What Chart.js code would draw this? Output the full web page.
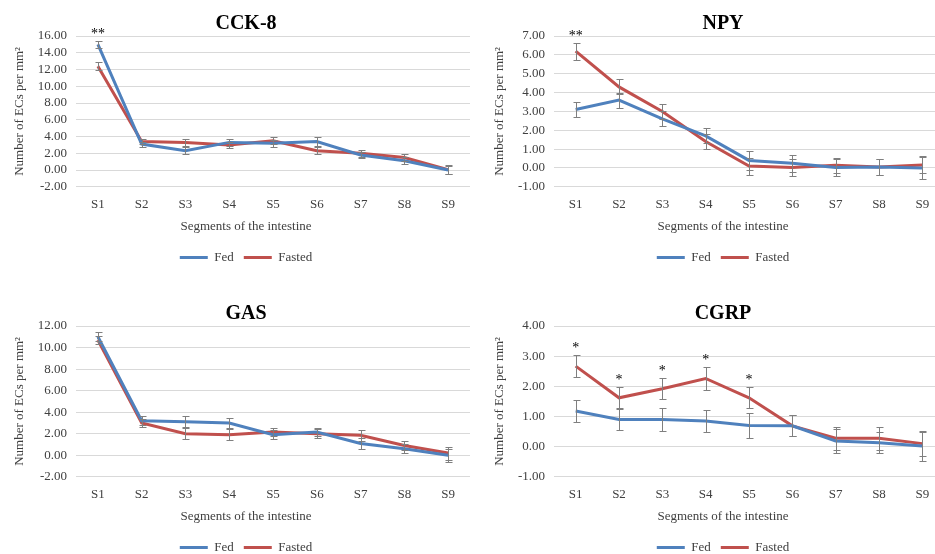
<!DOCTYPE html>
<html>
<head>
<meta charset="utf-8">
<script src="https://cdn.jsdelivr.net/npm/chart.js@4.4.1/dist/chart.umd.min.js"></script>
<style>
body{margin:0;width:935px;height:554px;overflow:hidden;background:#fff;position:relative}
.panel{position:absolute}
</style>
</head>
<body>
<div class="panel" style="left:0;top:0"><canvas id="c1" width="470" height="290"></canvas></div>
<div class="panel" style="left:470px;top:0"><canvas id="c2" width="475" height="290"></canvas></div>
<div class="panel" style="left:0;top:290px"><canvas id="c3" width="470" height="290"></canvas></div>
<div class="panel" style="left:470px;top:290px"><canvas id="c4" width="475" height="290"></canvas></div>
<script>
// segments of the intestine
let segments=["S1","S2","S3","S4","S5","S6","S7","S8","S9"]

// CCK-8
let cckFed=[15.0,3.1,2.3,3.3,3.2,3.4,1.8,1.1,0.0]
let cckFasted=[12.4,3.4,3.3,3.0,3.5,2.3,2.0,1.5,0.05]
let cckFedErr=[0.4,0.3,0.4,0.4,0.4,0.5,0.4,0.4,0.5]
let cckFastedErr=[0.45,0.3,0.4,0.4,0.4,0.4,0.4,0.4,0.5]
let cckStars=["**","","","","","","","",""]

// NPY
let npyFed=[3.1,3.6,2.6,1.7,0.4,0.25,0.02,0.05,0.0]
let npyFasted=[6.2,4.3,3.0,1.4,0.1,0.02,0.14,0.05,0.16]
let npyFedErr=[0.4,0.4,0.4,0.4,0.5,0.45,0.45,0.4,0.6]
let npyFastedErr=[0.45,0.4,0.4,0.4,0.45,0.45,0.4,0.4,0.45]
let npyStars=["**","","","","","","","",""]

// GAS
let gasFed=[11.0,3.2,3.1,3.0,1.9,2.15,1.1,0.6,0.0]
let gasFasted=[10.7,3.0,2.0,1.9,2.15,2.0,1.85,0.9,0.2]
let gasFedErr=[0.4,0.4,0.5,0.5,0.4,0.4,0.5,0.4,0.6]
let gasFastedErr=[0.4,0.4,0.5,0.5,0.4,0.4,0.5,0.4,0.6]
let gasStars=["","","","","","","","",""]

// CGRP
let cgrpFed=[1.18,0.9,0.9,0.85,0.7,0.69,0.19,0.13,0.02]
let cgrpFasted=[2.67,1.62,1.92,2.26,1.62,0.69,0.28,0.28,0.1]
let cgrpFedErr=[0.35,0.35,0.38,0.38,0.4,0.35,0.4,0.35,0.5]
let cgrpFastedErr=[0.37,0.35,0.35,0.38,0.35,0.35,0.38,0.38,0.4]
let cgrpStars=["*","*","*","*","*","","","",""]

let serif="'Liberation Serif','Times New Roman',serif"
let blue="#4F81BD"
let red="#C0504D"

let errorBars={
id:"errorBars",
afterDatasetsDraw(chart){
let ctx=chart.ctx
let y=chart.scales.y
ctx.save()
ctx.strokeStyle="#7f7f7f"
ctx.lineWidth=1
chart.data.datasets.forEach((ds,i)=>{
let meta=chart.getDatasetMeta(i)
meta.data.forEach((pt,j)=>{
let e=ds.errors[j]
let x=Math.round(pt.x)+0.5
let t=Math.round(y.getPixelForValue(ds.data[j]+e))+0.5
let b=Math.round(y.getPixelForValue(ds.data[j]-e))+0.5
ctx.beginPath()
ctx.moveTo(x,t);ctx.lineTo(x,b)
ctx.moveTo(x-3,t);ctx.lineTo(x+4,t)
ctx.moveTo(x-3,b);ctx.lineTo(x+4,b)
ctx.stroke()
})
})
ctx.restore()
}
}

let stars={
id:"stars",
afterDatasetsDraw(chart,args,opts){
let ctx=chart.ctx
let y=chart.scales.y
let x=chart.scales.x
ctx.save()
ctx.fillStyle="#000"
ctx.font="14px "+serif
ctx.textAlign="center"
ctx.textBaseline="alphabetic"
opts.marks.forEach((m,j)=>{
if(!m)return
let top=Math.max(...chart.data.datasets.map(ds=>ds.data[j]+ds.errors[j]))
ctx.fillText(m,x.getPixelForValue(j),y.getPixelForValue(top)-3)
})
ctx.restore()
}
}

function makeChart(id,title,fed,fasted,fedErr,fastedErr,marks,min,max,step,right){

new Chart(document.getElementById(id).getContext("2d"),{
type:"line",
data:{
labels:segments,
datasets:[
{label:"Fed",data:fed,errors:fedErr,borderColor:blue,backgroundColor:blue,borderWidth:3,pointRadius:0,tension:0},
{label:"Fasted",data:fasted,errors:fastedErr,borderColor:red,backgroundColor:red,borderWidth:3,pointRadius:0,tension:0}
]
},
options:{
responsive:false,
animation:false,
devicePixelRatio:1,
layout:{padding:{left:right?32:22,right:right?1:0,top:0,bottom:16}},
plugins:{
title:{display:true,text:title,color:"#000",font:{family:serif,size:20,weight:"bold"},padding:{top:12,bottom:0}},
subtitle:{display:true,position:"bottom",text:"Segments of the intestine",color:"#404040",font:{family:serif,size:13},padding:{top:4,bottom:7}},
legend:{position:"bottom",weight:3000,labels:{boxWidth:28,boxHeight:3,color:"#404040",font:{family:serif,size:13},padding:10,
generateLabels:c=>Chart.defaults.plugins.legend.labels.generateLabels(c).map(l=>{l.lineWidth=0;return l})}},
tooltip:{enabled:false},
stars:{marks:marks}
},
scales:{
x:{
offset:true,
grid:{display:false},
border:{display:false},
ticks:{color:"#404040",font:{family:serif,size:13},padding:2,autoSkip:false,maxRotation:0}
},
y:{
min:min,max:max,
grid:{color:"#d9d9d9",drawTicks:false},
border:{display:false},
ticks:{stepSize:step,autoSkip:false,color:"#404040",font:{family:serif,size:13},padding:9,callback:v=>v.toFixed(2)},
title:{display:true,text:"Number of ECs per mm²",color:"#404040",font:{family:serif,size:13},padding:{top:-10,bottom:0}},
afterFit:s=>{s.width=right?52:54}
}
}
},
plugins:[errorBars,stars]
})

}

makeChart("c1","CCK-8",cckFed,cckFasted,cckFedErr,cckFastedErr,cckStars,-2,16,2,false)
makeChart("c2","NPY",npyFed,npyFasted,npyFedErr,npyFastedErr,npyStars,-1,7,1,true)
makeChart("c3","GAS",gasFed,gasFasted,gasFedErr,gasFastedErr,gasStars,-2,12,2,false)
makeChart("c4","CGRP",cgrpFed,cgrpFasted,cgrpFedErr,cgrpFastedErr,cgrpStars,-1,4,1,true)
</script>
</body>
</html>
